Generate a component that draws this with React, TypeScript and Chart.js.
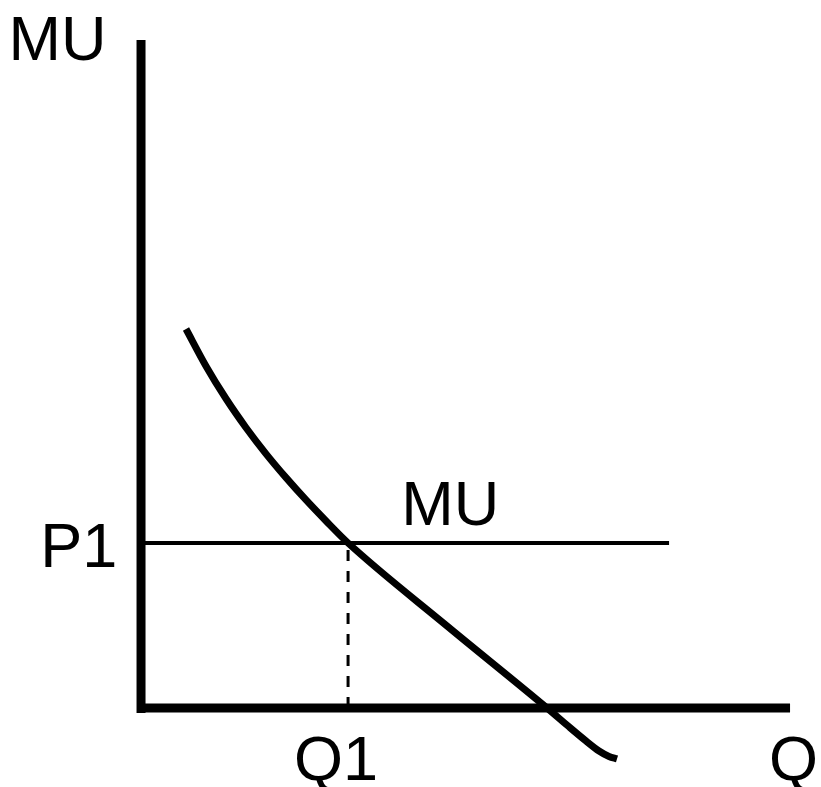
import React, { useEffect, useRef } from "react";
import { Chart, registerables } from "chart.js";

Chart.register(...registerables);

// Axis extents (data units)
const Q_AXIS_MAX = 10;
const MU_AXIS_MAX = 10;

// Marginal utility curve
const curveQ = [0.693, 1.002, 1.31, 1.618, 1.926, 2.234, 2.542, 2.851, 3.19, 4.715, 6.256, 6.579, 6.857, 7.057, 7.211, 7.334];
const curveMU = [5.674, 5.117, 4.629, 4.196, 3.805, 3.448, 3.114, 2.799, 2.47, 1.228, 0, -0.269, -0.494, -0.644, -0.726, -0.763];

// Price level and equilibrium quantity
const P1 = 2.47;
const Q1 = 3.19;
const PRICE_LINE_END = 8.136;

// Text labels
const labelTexts = ["MU", "P1", "MU", "Q1", "Q"];
const labelQ = [-2.043, -1.553, 4.01, 2.357, 9.676];
const labelMU = [9.701, 2.111, 2.74, -1.078, -1.078];

const textPlugin = {
  id: "textLabels",
  afterDatasetsDraw(chart: any) {
    const { ctx, scales } = chart;
    ctx.save();
    ctx.fillStyle = "#000";
    ctx.font = '63px "Liberation Sans", Arial, sans-serif';
    ctx.textAlign = "left";
    ctx.textBaseline = "alphabetic";
    labelTexts.forEach((t, i) => {
      ctx.fillText(t, scales.x.getPixelForValue(labelQ[i]), scales.y.getPixelForValue(labelMU[i]));
    });
    ctx.restore();
  },
};

export default function App() {
  const ref = useRef<HTMLCanvasElement>(null);
  useEffect(() => {
    if (!ref.current) return;
    const line = (data: { x: number; y: number }[], w: number, extra: any = {}) => ({
      data,
      borderColor: "#000",
      backgroundColor: "#000",
      borderWidth: w,
      pointRadius: 0,
      showLine: true,
      fill: false,
      borderCapStyle: "butt",
      ...extra,
    });
    const chart = new Chart(ref.current, {
      type: "scatter",
      data: {
        datasets: [
          line([{ x: 0, y: -0.075 }, { x: 0, y: MU_AXIS_MAX }], 9),
          line([{ x: -0.062, y: 0 }, { x: Q_AXIS_MAX, y: 0 }], 9),
          line([{ x: 0, y: P1 }, { x: PRICE_LINE_END, y: P1 }], 4),
          line([{ x: Q1, y: 0 }, { x: Q1, y: P1 }], 3, { borderDash: [11, 10] }),
          line(curveQ.map((q, i) => ({ x: q, y: curveMU[i] })), 7, {
            tension: 0.4,
            cubicInterpolationMode: "monotone",
            borderJoinStyle: "round",
          }),
        ],
      },
      options: {
        animation: false,
        responsive: false,
        events: [],
        layout: { padding: 0 },
        plugins: { legend: { display: false }, tooltip: { enabled: false } },
        scales: {
          x: { type: "linear", min: -2.173, max: 10.477, display: false },
          y: { type: "linear", min: -1.183, max: 10.599, display: false },
        },
      },
      plugins: [textPlugin],
    } as any);
    return () => chart.destroy();
  }, []);
  return (
    <div style={{ position: "absolute", left: 0, top: 0, width: 821, height: 787, background: "#fff" }}>
      <canvas ref={ref} width={821} height={787} style={{ display: "block" }} />
    </div>
  );
}
